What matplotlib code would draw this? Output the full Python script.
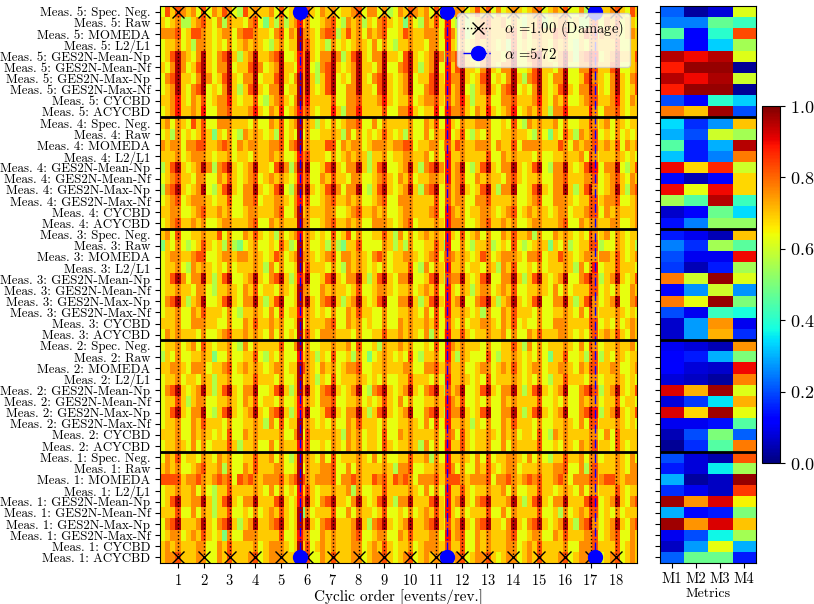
import numpy as np
import matplotlib
matplotlib.use("Agg")
import matplotlib.pyplot as plt

plt.rcParams['font.family'] = 'serif'
plt.rcParams['font.serif'] = ['cmr10']
plt.rcParams['mathtext.fontset'] = 'cm'
plt.rcParams['axes.formatter.use_mathtext'] = True
plt.rcParams['font.size'] = 10

methods = ['Spec. Neg.', 'Raw', 'MOMEDA', 'L2/L1', 'GES2N-Mean-Np', 'GES2N-Mean-Nf',
           'GES2N-Max-Np', 'GES2N-Max-Nf', 'CYCBD', 'ACYCBD']
measurements = [5, 4, 3, 2, 1]          # top to bottom
metric_names = ['M1', 'M2', 'M3', 'M4']
damage_order = 1.00
other_order = 5.72

# spectra, one string per row, digit d -> level 0.37 + 0.065*d
# 5 digits per order, bins centred at 0.4, 0.6, ..., the 4th digit of each group sits on an integer order
meas5_rows = [
    "47576 56474 65764 37565 56474 57875 46564 55674 66463 46576 56474 35664 57574 64565 45674 56574 46364 55675 47565",
    "54563 35675 46365 54674 25363 56564 45674 36563 54675 45264 36574 54363 45675 56464 35573 45664 53365 46574 55464",
    "66674 57765 45664 67765 54674 65665 46773 57564 65674 45765 56664 66473 46765 55674 64665 57674 45763 65664 56575",
    "45564 53665 45464 56565 43564 55675 45364 54565 46464 35565 54664 45464 56565 45374 54565 46564 35465 55574 45564",
    "45796 54695 46795 35695 56794 45695 46696 35795 46695 54795 45696 36795 45695 54694 46795 45695 36796 45695 55795",
    "54696 45795 46694 55796 45695 54694 36795 45695 54694 46795 35694 45795 54695 46694 45795 54694 46695 55794 45695",
    "46795 54696 45795 46694 55795 46695 35794 54695 46795 45694 55795 46695 45794 54695 36795 46694 45795 54695 46794",
    "45695 46794 54695 35795 46694 55695 45794 46695 54795 45694 46795 55694 35695 46794 54695 45795 46694 54695 45794",
    "55685 46574 56685 45574 35675 46685 55574 46675 55685 45574 56675 45685 35574 46675 55685 46574 45675 55685 46574",
    "45685 56584 46675 55685 46584 56675 45585 36685 55574 46685 45584 56675 46585 45684 56575 36685 55584 46675 45585",
]
meas4_rows = [
    "56465 47574 46665 55464 46574 56565 35464 56674 46465 55564 46574 45465 56664 45474 36565 56464 45574 56465 45564",
    "45364 54575 25464 36565 45374 54464 45565 36464 54575 45364 46465 54574 35464 45565 54364 25475 36564 45464 54565",
    "65664 66775 56764 65665 56674 67565 55774 65664 56665 66774 55664 65765 56664 65574 66665 55764 65665 56574 65664",
    "55564 56665 45564 55465 56564 45675 55464 56565 35564 55665 56464 45565 55574 46565 55464 45565 56474 55565 45464",
    "35795 45696 36795 45695 54796 36694 45795 46695 35794 45695 36796 45694 35795 46695 45794 36695 45795 46694 35795",
    "45675 54664 46575 45674 56565 45674 46575 54664 45675 46574 55665 45674 46565 54675 45564 46675 55664 45675 46574",
    "36795 45694 35795 46695 45794 36695 45796 46694 35795 45695 36794 45695 45795 36694 45795 46695 35794 45695 36795",
    "45674 56665 45574 46674 55665 46574 45675 56564 45674 46665 55574 45664 46675 55564 45674 46665 45574 56674 45665",
    "55664 45675 56564 45665 55674 46565 55664 45675 56564 45665 55674 46564 55665 45674 56565 45664 55675 46565 55664",
    "45675 56564 45665 55674 46565 55664 45675 56564 46665 45674 55565 46664 45675 56564 45665 55674 46565 55664 45675",
]
meas3_rows = [
    "56474 45565 57464 46575 45364 56565 45474 57464 45575 36464 56565 45474 56464 46575 56364 46565 45474 56465 45574",
    "25464 34575 45363 24564 45475 34564 45363 25574 44465 35364 45575 24464 35563 45474 34565 25463 45574 34465 45364",
    "45665 56774 45665 66565 45764 56665 45674 66565 46764 55665 45674 66565 45764 56665 46674 55765 45664 66575 45664",
    "45564 36565 45464 55565 36464 45575 55464 36565 45464 55574 36465 45564 55465 36574 45464 55565 36464 45575 55464",
    "45796 46695 35794 45695 46795 35694 45795 46695 35795 46694 45795 36695 45794 46695 35795 45694 46795 35695 45794",
    "45565 54664 35565 46574 55465 45664 46565 54574 45665 45564 56574 45465 35664 56574 45565 46464 55575 45464 46565",
    "46795 35694 45795 46695 35794 45695 46795 35695 45794 46695 35795 45694 46795 35695 45794 46695 35795 45694 46795",
    "45564 46575 55464 35565 46474 55565 45464 46575 54464 45565 46474 55565 45364 46575 55464 45565 46474 55565 45464",
    "55564 46665 54464 46575 56564 45465 55674 46564 54464 46565 56574 45464 55665 46574 54464 46665 55574 45464 56565",
    "46565 55464 45675 56565 46464 54575 46665 55464 45575 56565 46364 55575 45565 56464 46575 55665 45464 56575 46565",
]
meas2_rows = [
    "45564 56475 45564 36465 55574 46464 45565 56474 45365 56564 45474 46565 55464 45575 36464 55565 46474 45565 56464",
    "35464 45565 24464 45574 35464 44565 35474 45364 24565 45474 35564 45365 44474 35565 45464 25574 45364 35465 45574",
    "55665 46664 55674 56565 45664 55765 46564 56674 45565 55664 46675 55564 45664 56575 45664 55665 46574 55664 45665",
    "45564 55465 35564 45575 55464 45565 35474 55565 45464 45575 55464 35565 45474 55565 45464 35575 55464 45565 45474",
    "46795 45695 35795 46694 45795 35695 46795 45694 36795 45695 46795 35694 45795 46695 35795 45694 46795 35695 45795",
    "45575 35664 45565 46574 55464 45565 46674 45564 54575 46464 45565 56574 45464 46565 55574 45464 46565 45574 55464",
    "45795 46694 35795 45695 46795 35694 45795 46695 35795 45694 46795 36695 45794 46695 35795 45694 46795 35695 45795",
    "45564 46575 55464 45565 36474 55565 45464 46575 55464 45565 46474 55565 35464 46575 55464 45565 46474 55565 45464",
    "55564 46565 45474 46565 55564 46475 55565 36564 55474 46565 55564 46475 45565 46564 55474 36565 55564 46475 55565",
    "45565 46464 55575 35564 46465 55574 45465 46564 55475 45565 36464 55575 45564 46465 55574 45465 46564 55475 45565",
]
meas1_rows = [
    "46574 55465 46564 45575 56464 35565 46474 55565 46464 45575 56364 45565 46474 55665 46464 35575 56464 45565 46474",
    "56564 45675 56364 46575 55664 45465 56674 46465 55565 36674 45565 56464 46575 45664 55565 56674 46365 55565 46674",
    "77775 66765 67674 76765 66675 67765 66674 66765 57675 76764 66675 57765 66674 66765 67675 56764 66675 67765 66674",
    "45565 56464 35575 55565 46464 54575 45565 56364 45575 55565 46464 35575 45565 56464 45575 54565 46464 55575 45565",
    "45795 56695 35795 46695 55795 45695 46795 54695 45795 36695 55795 45695 46795 55695 35795 46695 55795 45695 46795",
    "55574 46465 35574 45464 56575 45264 55574 46465 54574 45464 56575 35464 55574 46465 55574 45364 56575 45464 55574",
    "46795 55695 46795 35695 56795 45695 46795 55695 36795 45695 56795 45695 46795 54695 46795 45695 36795 45695 46795",
    "45664 56575 45264 46665 55574 45664 46565 55674 45664 46575 55664 45674 46565 55674 45664 46575 55664 45674 46565",
    "56565 55664 46575 55564 56665 45574 56565 55664 56575 45564 56665 55574 46565 55664 56575 55564 46665 55574 56565",
    "56675 55664 46575 55674 56665 55674 46575 55664 56675 45674 56565 55674 56675 45664 56575 55674 56665 45674 56575",
]
# level at 5.72, 11.44, 17.16 for every row (same digit code)
other_h1 = "98998899989998989899899989989998999889989998899899"
other_h2 = "78887888788878887788887878887888787888788878887878"
other_h3 = "67768767766776876776676877667767767687676776876777"

# metrics panel, rows top to bottom
m1 = [.22, .25, .45, .27, .95, .88, .95, .88, .20, .78,
      .34, .30, .45, .32, .90, .13, .90, .55, .07, .14,
      .15, .25, .20, .18, .78, .11, .78, .20, .07, .07,
      .10, .11, .12, .08, .92, .08, .92, .10, .05, .02,
      .20, .15, .30, .17, .97, .30, .97, .10, .06, .22]
m2 = [.03, .25, .11, .12, .90, .98, .90, .98, .12, .70,
      .17, .20, .15, .15, .68, .05, .63, .45, .11, .25,
      .10, .17, .10, .05, .60, .27, .63, .10, .28, .28,
      .08, .15, .08, .06, .72, .18, .68, .10, .20, .17,
      .08, .08, .03, .10, .75, .13, .75, .20, .28, .48]
m3 = [.08, .47, .40, .33, .95, .98, .96, .98, .40, .97,
      .27, .60, .30, .25, .87, .12, .90, .95, .48, .53,
      .05, .55, .10, .15, .98, .60, .98, .42, .75, .72,
      .05, .30, .07, .03, .97, .35, .97, .14, .50, .45,
      .04, .36, .06, .06, .92, .15, .92, .37, .63, .48]
m4 = [.62, .42, .83, .55, .62, .02, .60, .02, .33, .20,
      .70, .55, .95, .78, .60, .68, .68, .42, .34, .53,
      .70, .46, .90, .55, .62, .27, .50, .38, .10, .17,
      .75, .50, .90, .77, .62, .72, .63, .45, .22, .78,
      .82, .55, .98, .85, .65, .50, .70, .55, .30, .15]


def decode(s):
    return [0.37 + 0.065 * int(c) for c in s.replace(" ", "")]


all_rows = meas5_rows + meas4_rows + meas3_rows + meas2_rows + meas1_rows
spec = np.array([decode(r) for r in all_rows])
n_rows, n_bins = spec.shape
ylabels = ['Meas. {}: {}'.format(m, name) for m in measurements for name in methods]
metrics = np.column_stack([m1, m2, m3, m4])

fig = plt.figure(figsize=(8.14, 6.04), dpi=100)
ax = fig.add_axes([0.1966, 0.0679, 0.586, 0.922])
ax2 = fig.add_axes([0.811, 0.0679, 0.118, 0.922])
cax = fig.add_axes([0.936, 0.2334, 0.022, 0.591])

x0 = 0.3
im = ax.imshow(spec, cmap='jet', vmin=0, vmax=1, aspect='auto', interpolation='nearest',
               extent=[x0, x0 + 0.2 * n_bins, n_rows - 0.5, -0.5])
# narrow columns at the 5.72 harmonics
for h, lev in zip([1, 2, 3], [other_h1, other_h2, other_h3]):
    p = h * other_order
    col = np.array(decode(lev)).reshape(-1, 1)
    ax.imshow(col, cmap='jet', vmin=0, vmax=1, aspect='auto', interpolation='nearest',
              extent=[p - 0.1, p + 0.1, n_rows - 0.5, -0.5])

for k in range(1, 19):
    ax.plot([k * damage_order] * 2, [0, n_rows - 1], color='k', ls=':', lw=1,
            marker='x', ms=8, mew=1.0,
            label=r'$\alpha$ =1.00 (Damage)' if k == 1 else None)
for h in range(1, 4):
    ax.plot([h * other_order] * 2, [0, n_rows - 1], color='b', ls='-.', lw=1,
            marker='o', ms=10,
            label=r'$\alpha$ =5.72' if h == 1 else None)

for b in range(1, len(measurements)):
    ax.axhline(b * len(methods) - 0.5, color='k', lw=2)
    ax2.axhline(b * len(methods) - 0.5, color='k', lw=2)

ax.set_xlim(0.3, 18.8)
ax.set_ylim(n_rows - 0.5, -0.5)
ax.set_xticks(range(1, 19))
ax.set_yticks(range(n_rows))
ax.set_yticklabels(ylabels, fontsize=9.3)
ax.tick_params(axis='x', labelsize=10.5)
ax.set_xlabel('Cyclic order [events/rev.]', fontsize=11, labelpad=1)
ax.legend(loc='upper right', fontsize=10.5)

ax2.imshow(metrics, cmap='jet', vmin=0, vmax=1, aspect='auto', interpolation='nearest')
ax2.set_xticks(range(4))
ax2.set_xticklabels(metric_names, fontsize=10.5)
ax2.set_yticks(range(n_rows))
ax2.set_yticklabels([])
ax2.set_xlabel('Metrics', fontsize=10, labelpad=1)

cb = fig.colorbar(im, cax=cax, ticks=[0, 0.2, 0.4, 0.6, 0.8, 1.0])
cb.ax.tick_params(labelsize=13)

fig.savefig('out.png', dpi=100)
